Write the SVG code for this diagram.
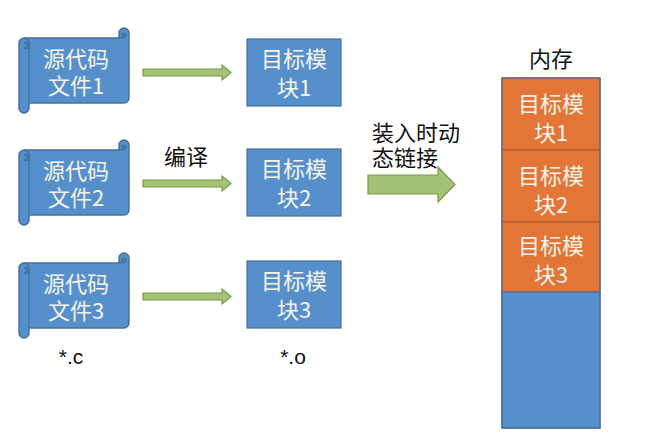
<svg xmlns="http://www.w3.org/2000/svg" width="665" height="445" viewBox="0 0 665 445">
<defs>
<style>
.scroll{fill:#5590CD;stroke:#41719C;stroke-width:1.4;stroke-linejoin:round}
.det{fill:none;stroke:#41719C;stroke-width:1.2}
.curl{fill:#4679B0;stroke:#41719C;stroke-width:1}
.blk{fill:#5590CD;stroke:#41719C;stroke-width:1.2}
.mem{fill:#E37536;stroke:#B2582A;stroke-width:1.2}
.memb{fill:#5590CD;stroke:#4A6D96;stroke-width:1.2}
.arr{fill:#A3C276;stroke:#7A9A4A;stroke-width:1.2;stroke-linejoin:miter}
.wt{font-family:"Noto Sans CJK SC","Liberation Sans",sans-serif;font-size:22px;fill:#F8F4EC;text-anchor:middle}
.bt{font-family:"Noto Sans CJK SC","Liberation Sans",sans-serif;font-size:22px;fill:#111111;text-anchor:middle}
</style>
<g id="scrollShape">
<path class="scroll" d="M0,15 A5,5 0 0 1 5,10 L100,10 L100,5 A5,5 0 0 1 110,5 L110,70 A5,5 0 0 1 105,75 L10,75 L10,80 A5,5 0 0 1 0,80 Z"/>
<path class="curl" d="M100,10 L105,10 A2.5,2.5 0 0 0 105,5 A2.5,2.5 0 0 0 102.5,7.5"/>
<path class="det" d="M5,10 A5,5 0 0 1 10,15 L10,75"/>
<path class="curl" d="M5,20 A2.5,2.5 0 0 0 5,15 A5,5 0 0 1 10,15 L10,20 A5,5 0 0 1 5,20 Z"/>
</g>
</defs>

<g id="src1">
<use href="#scrollShape" transform="translate(19,28)"/>
<text class="wt" x="76" y="67">源代码</text>
<text class="wt" x="76" y="94">文件1</text>
</g>
<g id="src2">
<use href="#scrollShape" transform="translate(19,140)"/>
<text class="wt" x="76" y="179">源代码</text>
<text class="wt" x="76" y="206">文件2</text>
</g>
<g id="src3">
<use href="#scrollShape" transform="translate(19,253)"/>
<text class="wt" x="76" y="292">源代码</text>
<text class="wt" x="76" y="319">文件3</text>
</g>

<g id="obj1">
<rect class="blk" x="247" y="39" width="94" height="67"/>
<text class="wt" x="294" y="67">目标模</text>
<text class="wt" x="294" y="96">块1</text>
</g>
<g id="obj2">
<rect class="blk" x="247" y="149" width="94" height="67"/>
<text class="wt" x="294" y="177">目标模</text>
<text class="wt" x="294" y="206">块2</text>
</g>
<g id="obj3">
<rect class="blk" x="247" y="261" width="94" height="67"/>
<text class="wt" x="294" y="289">目标模</text>
<text class="wt" x="294" y="318">块3</text>
</g>

<g id="memory">
<text class="bt" x="551" y="67">内存</text>
<rect class="mem" x="502" y="78" width="98" height="72"/>
<text class="wt" x="551" y="112">目标模</text>
<text class="wt" x="551" y="141">块1</text>
<rect class="mem" x="502" y="150" width="98" height="72"/>
<text class="wt" x="551" y="184">目标模</text>
<text class="wt" x="551" y="213">块2</text>
<rect class="mem" x="502" y="222" width="98" height="70"/>
<text class="wt" x="551" y="254">目标模</text>
<text class="wt" x="551" y="283">块3</text>
<rect class="memb" x="502" y="292" width="98" height="136"/>
<rect x="502" y="78" width="98" height="350" fill="none" stroke="#4A6D96" stroke-width="1.2"/>
</g>

<g id="connectors">
<path class="arr" d="M143,69 L222,69 L222,65 L231,72.5 L222,80 L222,76 L143,76 Z"/>
<path class="arr" d="M143,180 L222,180 L222,176 L231,183.5 L222,191 L222,187 L143,187 Z"/>
<path class="arr" d="M143,293 L222,293 L222,289 L231,296.5 L222,304 L222,300 L143,300 Z"/>
<path class="arr" d="M368,175 L438,175 L438,167 L455,184.5 L438,202 L438,194 L368,194 Z"/>
</g>

<g id="labels">
<text class="bt" x="186" y="165">编译</text>
<text class="bt" x="416" y="141">装入时动</text>
<text class="bt" x="405" y="166">态链接</text>
<text class="bt" x="71" y="364" style="font-family:'Liberation Sans',sans-serif;font-size:21px">*.c</text>
<text class="bt" x="293" y="364" style="font-family:'Liberation Sans',sans-serif;font-size:21px">*.o</text>
</g>
</svg>
